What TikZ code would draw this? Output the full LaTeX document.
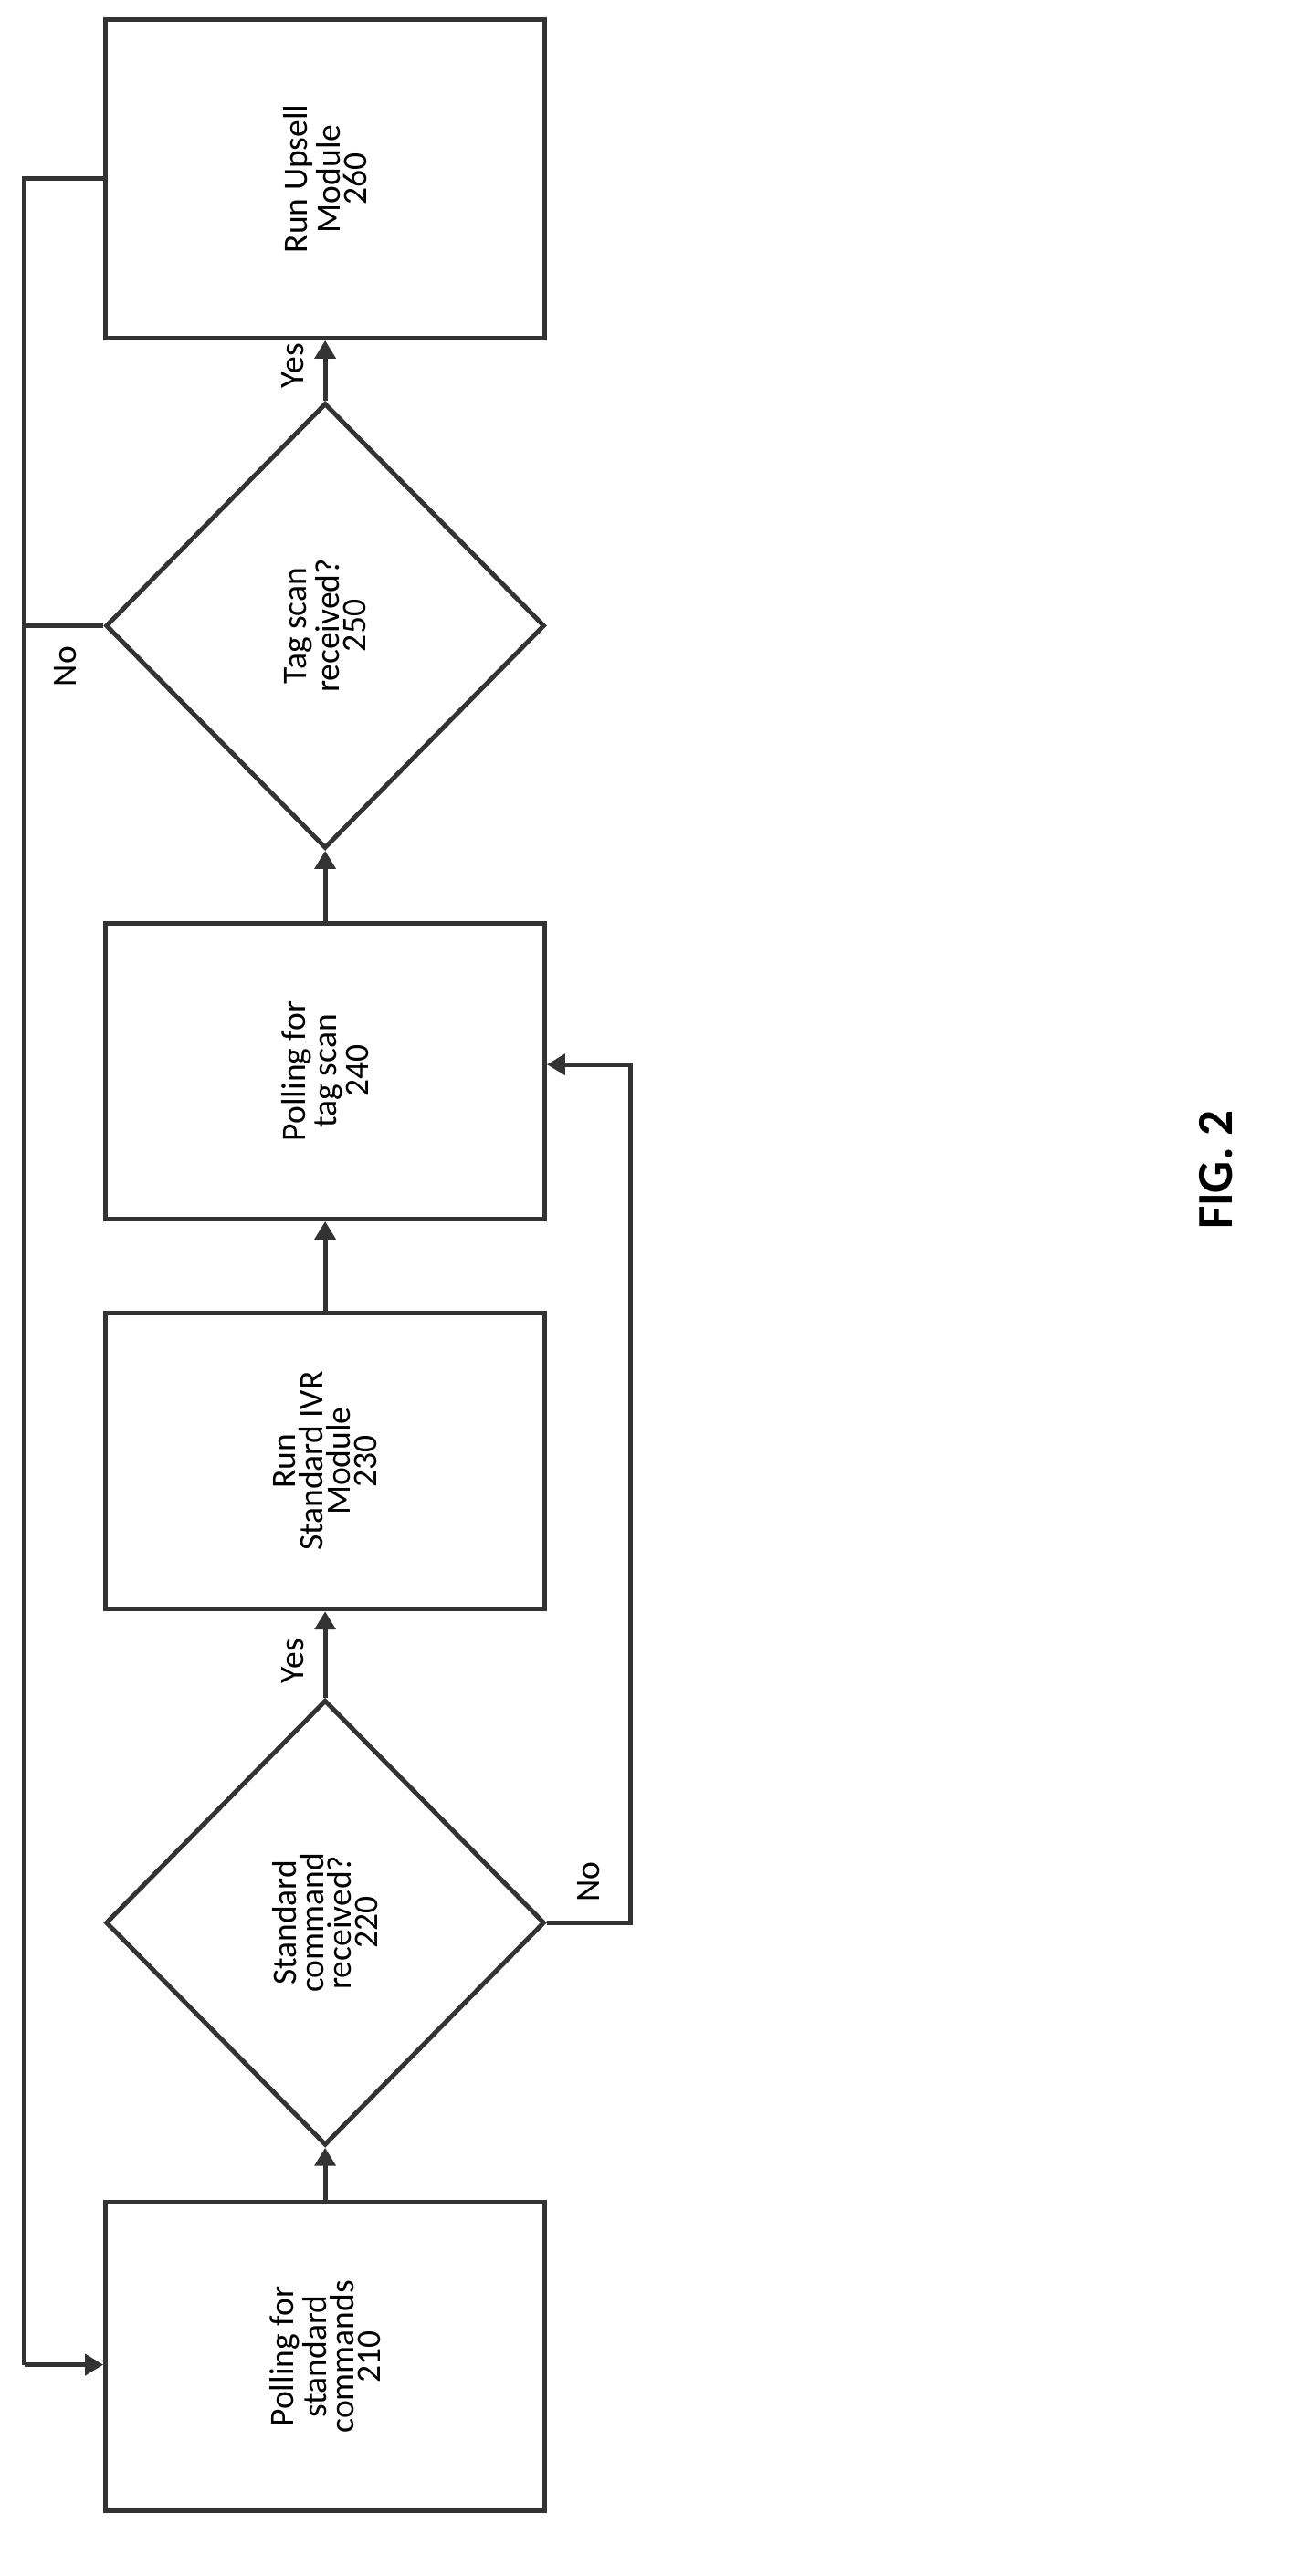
\documentclass[tikz,border=0pt]{standalone}
\usepackage{fontspec}
\setmainfont{Carlito}
\usetikzlibrary{shapes.geometric,arrows.meta}
\begin{document}
\begin{tikzpicture}[x=0.05cm,y=-0.05cm,
  box/.style={draw=black!80,line width=4pt,minimum width=13.5cm,inner sep=0pt,font=\fontsize{30}{36}\selectfont},
  dia/.style={draw=black!80,line width=4pt,diamond,minimum width=13.5cm,minimum height=13.7cm,inner sep=0pt,font=\fontsize{30}{36}\selectfont},
  ar/.style={draw=black!80,line width=4pt,-{Triangle[length=16pt,width=18pt]}},
  ln/.style={draw=black!80,line width=4pt},
  lab/.style={font=\fontsize{30}{36}\selectfont,rotate=90}]
\useasboundingbox (0,0) rectangle (795,1585);
\node[box,minimum height=9.8cm] (b260) at (200,110) {\rotatebox{90}{\shortstack{Run Upsell\\Module\\260}}};
\node[dia] (d250) at (200,385) {\rotatebox{90}{\shortstack{Tag scan\\received?\\250}}};
\node[box,minimum height=9.1cm] (b240) at (200,659) {\rotatebox{90}{\shortstack{Polling for\\tag scan\\240}}};
\node[box,minimum height=9.1cm] (b230) at (200,899) {\rotatebox{90}{\shortstack{Run\\Standard IVR\\Module\\230}}};
\node[dia] (d220) at (200,1183) {\rotatebox{90}{\shortstack{Standard\\command\\received?\\220}}};
\node[box,minimum height=9.5cm] (b210) at (200,1450) {\rotatebox{90}{\shortstack{Polling for\\standard\\commands\\210}}};
\node[font=\fontsize{44}{50}\selectfont\bfseries,rotate=90] (fig) at (748,720) {FIG. 2};
\draw[ar] (b210.north) -- (d220.south);
\draw[ar] (d220.north) -- (b230.south);
\draw[ar] (b230.north) -- (b240.south);
\draw[ar] (b240.north) -- (d250.south);
\draw[ar] (d250.north) -- (b260.south);
\coordinate (c1) at (388,1183);
\coordinate (c2) at (388,655);
\draw[ar] (d220.east) -- (c1) -- (c2) -- (b240.east |- c2);
\coordinate (l1) at (15,110);
\coordinate (l2) at (15,1455);
\draw[ln] (b260.west) -- (l1) -- (l2);
\draw[ln] (d250.west) -- (d250.west -| l1);
\draw[ar] (l2) -- (b210.west |- l2);
\node[lab] (y1) at (180,1022) {Yes};
\node[lab] (y2) at (180,225) {Yes};
\node[lab] (n1) at (362,1158) {No};
\node[lab] (n2) at (40,410) {No};
\end{tikzpicture}
\end{document}
